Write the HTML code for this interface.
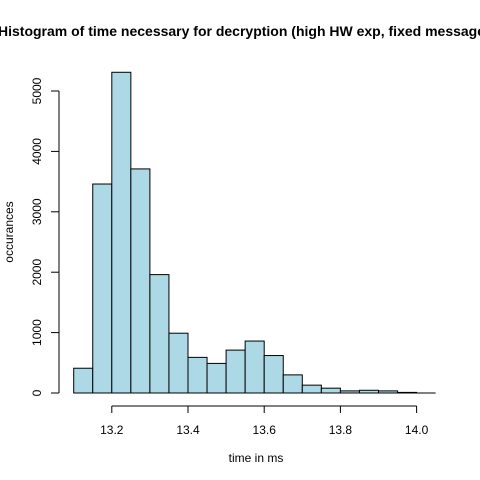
<!DOCTYPE html>
<html><head><meta charset="utf-8"><style>
body{margin:0;background:#fff;}
svg{display:block;font-family:"Liberation Sans",Arial,sans-serif;}
</style></head><body>
<svg id="chart" width="480" height="480" viewBox="0 0 480 480">
<rect width="480" height="480" fill="#fff"/>
<text x="-2" y="36" font-size="14" font-weight="bold" text-anchor="start">Histogram of time necessary for decryption (high HW exp, fixed message)</text>
<g id="bars"></g>
<g id="xaxis"></g>
<g id="yaxis"></g>
<text x="256" y="462" font-size="12" text-anchor="middle">time in ms</text>
<text x="0" y="0" font-size="12" text-anchor="middle" transform="translate(13,232) rotate(-90)">occurances</text>
</svg>
<script>
const binStart = 13.10;
const binWidth = 0.05;
const counts = [410,3460,5310,3710,1960,990,590,490,710,860,620,300,130,80,35,45,35,10,0];
const xTicks = [13.2,13.4,13.6,13.8,14.0];
const xTickLabels = ["13.2","13.4","13.6","13.8","14.0"];
const yTicks = [0,1000,2000,3000,4000,5000];
const yTickLabels = ["0","1000","2000","3000","4000","5000"];

const NS="http://www.w3.org/2000/svg";
function X(v){return 111.8+(v-13.2)*381;}
function Y(v){return 393-v*0.0604;}
function mk(tag,attrs,parent){const e=document.createElementNS(NS,tag);for(const k in attrs)e.setAttribute(k,attrs[k]);parent.appendChild(e);return e;}

const bars=document.getElementById('bars');
counts.forEach((c,i)=>{
  const x0=X(binStart+i*binWidth), x1=X(binStart+(i+1)*binWidth);
  const r=mk('rect',{x:x0,y:Y(c),width:x1-x0,height:Y(0)-Y(c),fill:'#add8e6',stroke:'#000','stroke-width':1},bars);
  
  
});
mk('line',{x1:X(binStart),x2:X(binStart+counts.length*binWidth),y1:Y(0),y2:Y(0),stroke:'#000'},bars);

const xa=document.getElementById('xaxis');
mk('line',{x1:X(xTicks[0]),x2:X(xTicks[xTicks.length-1]),y1:406,y2:406,stroke:'#000'},xa);
xTicks.forEach((t,i)=>{
  mk('line',{x1:X(t),x2:X(t),y1:406,y2:413,stroke:'#000'},xa);
  const tx=mk('text',{x:X(t),y:434,'font-size':12,'text-anchor':'middle'},xa);
  tx.textContent=xTickLabels[i];
  
  
});
const ya=document.getElementById('yaxis');
mk('line',{x1:59,x2:59,y1:Y(yTicks[0]),y2:Y(yTicks[yTicks.length-1]),stroke:'#000'},ya);
yTicks.forEach((t,i)=>{
  mk('line',{x1:51,x2:59,y1:Y(t),y2:Y(t),stroke:'#000'},ya);
  const tx=mk('text',{x:0,y:0,'font-size':12,'text-anchor':'middle',transform:`translate(41,${Y(t)}) rotate(-90)`},ya);
  tx.textContent=yTickLabels[i];
  
  
});
</script>
</body></html>
